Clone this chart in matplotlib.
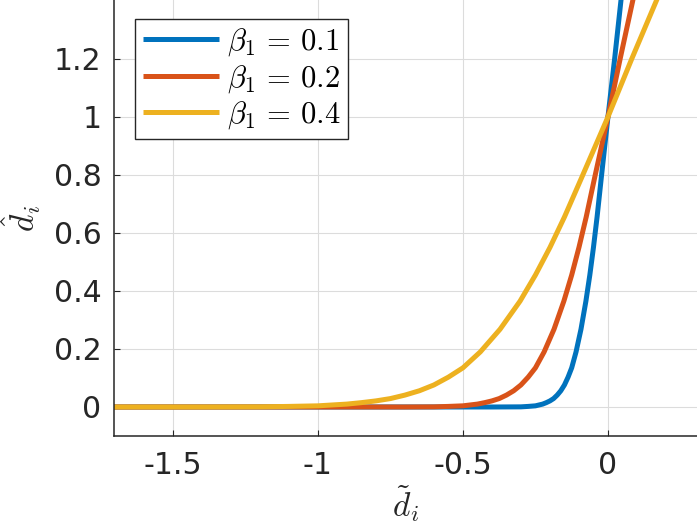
import matplotlib
matplotlib.use("Agg")
import matplotlib.pyplot as plt

plt.rcParams['mathtext.fontset'] = 'cm'
plt.rcParams['font.family'] = ['DejaVu Sans']

# ---- data ----
labels = [r'$\beta_1\,=\,0.1$', r'$\beta_1\,=\,0.2$', r'$\beta_1\,=\,0.4$']
colors = ['#0072BD', '#D95319', '#EDB120']

x_b01 = [-1.703, -0.4, -0.3, -0.275, -0.25, -0.2375, -0.225, -0.2125, -0.2, -0.1875, -0.175,
         -0.1625, -0.15, -0.1375, -0.125, -0.11, -0.093, -0.076, -0.0625, -0.05, -0.0375,
         -0.023, 0.0, 0.023, 0.045, 0.062]
y_b01 = [0.0, 0.0, 0.0005, 0.002, 0.004, 0.007, 0.010, 0.015, 0.021, 0.029, 0.041,
         0.056, 0.076, 0.103, 0.135, 0.19, 0.268, 0.365, 0.455, 0.55, 0.655,
         0.79, 1.0, 1.2, 1.403, 1.57]

x_b02 = [-1.703, -0.8, -0.7, -0.6, -0.55, -0.5, -0.475, -0.45, -0.425, -0.4, -0.375, -0.35,
         -0.325, -0.3, -0.275, -0.25, -0.22, -0.186, -0.152, -0.125, -0.1, -0.075, -0.046,
         0.0, 0.042, 0.086, 0.122]
y_b02 = [0.0, 0.0, 0.0, 0.0005, 0.002, 0.004, 0.007, 0.010, 0.015, 0.021, 0.029, 0.041,
         0.056, 0.076, 0.103, 0.135, 0.19, 0.268, 0.365, 0.455, 0.55, 0.655, 0.79,
         1.0, 1.2, 1.403, 1.57]

x_b04 = [-1.703, -1.4, -1.2, -1.1, -1.0, -0.95, -0.9, -0.85, -0.8, -0.75, -0.7, -0.65,
         -0.6, -0.55, -0.5, -0.44, -0.372, -0.303, -0.25, -0.2, -0.15, -0.091, 0.0,
         0.082, 0.168, 0.24]
y_b04 = [0.0, 0.0, 0.0005, 0.002, 0.004, 0.007, 0.010, 0.015, 0.021, 0.029, 0.041, 0.056,
         0.076, 0.103, 0.135, 0.19, 0.268, 0.365, 0.455, 0.55, 0.655, 0.79, 1.0,
         1.2, 1.403, 1.57]

x_ticks = [-1.5, -1.0, -0.5, 0.0]
x_ticklabels = ['-1.5', '-1', '-0.5', '0']
y_ticks = [0, 0.2, 0.4, 0.6, 0.8, 1.0, 1.2]
y_ticklabels = ['0', '0.2', '0.4', '0.6', '0.8', '1', '1.2']

# ---- figure ----
W, H = 697, 527
fig = plt.figure(figsize=(W / 100, H / 100), dpi=100)
ax = fig.add_axes([114 / W, (H - 436) / H, 1 - 114 / W, 436 / H])

for xs, ys, c, lab in zip([x_b01, x_b02, x_b04], [y_b01, y_b02, y_b04], colors, labels):
    ax.plot(xs, ys, color=c, lw=3.6, label=lab, solid_capstyle='butt',
            solid_joinstyle='round')

ax.set_xlim(-1.703, 0.307)
ax.set_ylim(-0.1, 1.403)
ax.set_xticks(x_ticks)
ax.set_xticklabels(x_ticklabels)
ax.set_yticks(y_ticks)
ax.set_yticklabels(y_ticklabels)

ax.grid(True, color='#DCDCDC', lw=0.8)
ax.set_axisbelow(True)
for s in ['top', 'right']:
    ax.spines[s].set_visible(False)
for s in ['left', 'bottom']:
    ax.spines[s].set_color('#262626')
    ax.spines[s].set_linewidth(1.1)
ax.tick_params(direction='in', length=4, width=0.8, colors='#262626',
               labelsize=21.5, labelcolor='#262626')
ax.tick_params(axis='x', pad=11)
ax.tick_params(axis='y', pad=9)

ax.set_xlabel(r'$\tilde{d}_i$', fontsize=24, labelpad=2, color='#262626')
ax.set_ylabel(r'$\hat{d}_i$', fontsize=24, labelpad=8, color='#262626')

leg = ax.legend(loc='upper left', bbox_to_anchor=((135 - 114) / 583, (436 - 19) / 436),
                borderaxespad=0, fontsize=22, handlelength=2.5, handletextpad=0.25,
                labelspacing=0.15, borderpad=0.25, fancybox=False, framealpha=1)
leg.get_frame().set_edgecolor('#262626')
leg.get_frame().set_linewidth(1.0)

fig.savefig('out.png', dpi=100)
